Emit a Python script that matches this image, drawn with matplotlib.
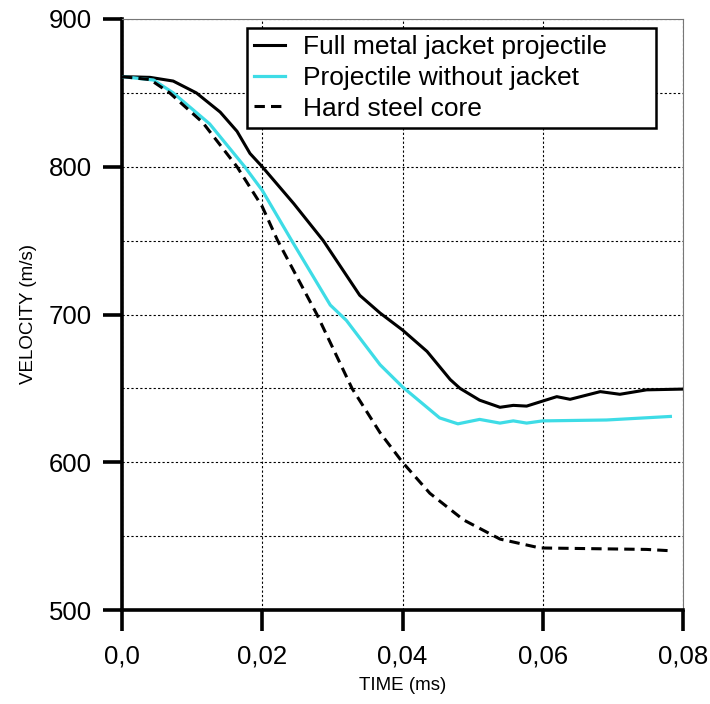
import matplotlib
matplotlib.use("Agg")
import matplotlib.pyplot as plt
from matplotlib.ticker import MultipleLocator

# --- data ---
t_fmj = [0, 0.004, 0.0073, 0.0106, 0.014, 0.0164, 0.01825, 0.02, 0.0245, 0.0287,
         0.0339, 0.0368, 0.04, 0.0435, 0.0468, 0.0482, 0.051, 0.0539, 0.0558,
         0.0577, 0.062, 0.0639, 0.0682, 0.071, 0.0748, 0.0798]
v_fmj = [861, 860.5, 858, 850, 837, 824, 809, 800, 775, 750,
         713, 701, 689.5, 675, 656, 650, 642, 637.2, 638.5,
         638, 644.4, 642.6, 647.8, 646, 649, 649.5]

t_nojacket = [0, 0.0045, 0.0073, 0.0125, 0.0175, 0.02, 0.0242, 0.0297, 0.032,
              0.0368, 0.04, 0.0453, 0.0479, 0.051, 0.0539, 0.0558, 0.0577,
              0.06, 0.0691, 0.0782]
v_nojacket = [861, 858.7, 850, 829, 800, 784, 750, 706.4, 696,
              666, 651, 630, 626, 629, 626.5, 628, 626.5,
              628, 628.6, 631]

t_core = [0, 0.004, 0.0068, 0.0115, 0.0164, 0.02, 0.0222, 0.0278, 0.0328,
          0.0368, 0.04, 0.0439, 0.0487, 0.0539, 0.0596, 0.0748, 0.0786]
v_core = [861, 859, 850, 830, 800, 773, 750, 700, 650,
          620, 600, 579, 561, 548, 542, 541, 540]

labels = ["Full metal jacket projectile", "Projectile without jacket", "Hard steel core"]
x_ticks = [0.0, 0.02, 0.04, 0.06, 0.08]
x_ticklabels = ["0,0", "0,02", "0,04", "0,06", "0,08"]
y_ticks = [500, 600, 700, 800, 900]

plt.rcParams['font.family'] = ['Liberation Sans', 'DejaVu Sans']

fig = plt.figure(figsize=(7.10, 7.04), dpi=100)
ax_l, ax_b, ax_r, ax_t = 122 / 710, 1 - 610 / 704, 683 / 710, 1 - 19 / 704
ax = fig.add_axes([ax_l, ax_b, ax_r - ax_l, ax_t - ax_b])

ax.plot(t_fmj, v_fmj, color='black', lw=2.2, label=labels[0], zorder=3)
ax.plot(t_nojacket, v_nojacket, color='#3EDCE6', lw=2.3, label=labels[1], zorder=3)
ax.plot(t_core, v_core, color='black', lw=2.2, linestyle=(0, (3.4, 2.0)), label=labels[2], zorder=3)

ax.set_xlim(0, 0.08)
ax.set_ylim(500, 900)
ax.set_xticks(x_ticks)
ax.set_xticklabels(x_ticklabels)
ax.set_yticks(y_ticks)
ax.yaxis.set_minor_locator(MultipleLocator(50))
ax.tick_params(axis='y', which='minor', length=0)

ax.grid(True, which='both', color='black', linestyle=(0, (2, 2)), lw=0.8)
ax.set_axisbelow(True)

ax.tick_params(axis='y', which='major', direction='out', length=13.5, width=2.6,
               labelsize=18.5, pad=8, color='black')
ax.tick_params(axis='x', which='major', direction='out', length=15, width=2.6,
               labelsize=18.5, pad=10, color='black')

for s in ['left', 'bottom']:
    ax.spines[s].set_linewidth(2.6)
    ax.spines[s].set_color('black')
for s in ['top', 'right']:
    ax.spines[s].set_linewidth(0.8)
    ax.spines[s].set_color('#777777')

ax.set_xlabel("TIME (ms)", fontsize=13.5, labelpad=6)
ax.set_ylabel("VELOCITY (m/s)", fontsize=13.5, labelpad=9)

# legend box: from x=247 to 656 px, top at 28 px
lx0 = (247 - 122) / (683 - 122)
lx1 = (656 - 122) / (683 - 122)
ly1 = (610 - 28) / (610 - 19)
leg = ax.legend(loc='upper left', bbox_to_anchor=(lx0, ly1 - 0.2, lx1 - lx0, 0.2),
                mode='expand', fontsize=19,
                frameon=True, fancybox=False, handlelength=1.15, handletextpad=0.7,
                borderpad=0.28, labelspacing=0.25, borderaxespad=0)
leg.get_frame().set_edgecolor('black')
leg.get_frame().set_linewidth(1.8)
leg.get_frame().set_alpha(1)

fig.savefig("out.png", dpi=100)
